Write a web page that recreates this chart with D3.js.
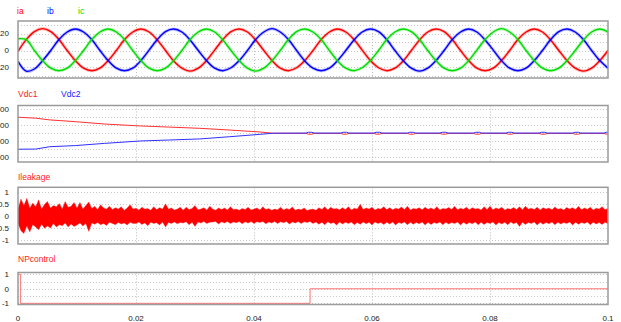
<!DOCTYPE html>
<html><head><meta charset="utf-8">
<script src="https://cdn.jsdelivr.net/npm/d3@7"></script>
<style>body{margin:0;background:#fff}svg{display:block}text{font-family:"Liberation Sans",Arial,sans-serif}</style>
</head><body><svg width="621" height="322"></svg>
<script>
// ---------- DATA ----------
// phase currents, sampled every 100/72 ms (30 degrees of 60 Hz)
const curStepMs = 100 / 72;
const ia = [-1,13,22.5,26,22.5,13,0,-12,-21,-24,-21,-12,
  0,13,22,25.5,22,12.5,0,-12.5,-21,-24.5,-21,-12,
  0.5,13,22.5,25.5,22,12.5,0,-12,-21,-24,-20.5,-12,
  0,13,22,25.5,22,13,0.5,-12,-20.5,-24,-21,-12.5,
  0,12.5,22,25.5,22.5,13,0,-12,-21,-24,-21,-12,
  0,13,22,25.5,22,12.5,0,-12,-21,-24.5,-21,-12,
  0];
const ib = [-13,-24.5,-22,-12,0,13,22,25.5,22,13,0,-12,
  -21,-24,-21,-12,0.5,13,22.5,25.5,22,12.5,0,-12,
  -21,-24,-20.5,-12,0,13,22,26,22,13,0,-12.5,
  -21,-24,-21,-12,0,12.5,22,25.5,22.5,13,0,-12,
  -21,-24.5,-21,-12,0,13,22,25.5,22,12.5,0.5,-12,
  -21,-24,-21,-12,0,13,22.5,25.5,22,13,0,-12,
  -21];
const ic = [14,13,0,-12,-21,-24,-21,-12,0,13,22,25.5,
  22,13,0,-12,-21,-24,-21,-12,0,13,22,25.5,
  22,12.5,0,-12,-21,-24.5,-21,-12,0,13,22.5,25.5,
  22,13,0,-12.5,-21,-24,-20.5,-12,0,13,22,25.5,
  22.5,13,0,-12,-21,-24,-21,-12,0.5,13,22,26,
  22,13,0,-12,-21,-24,-21,-12,0,12.5,22,25.5,
  22];
const curLabels = ["ia", "ib", "ic"];

// DC link capacitor voltages (time in ms)
const vdcT = [0,3,5.4,9.7,14.7,20.7,25.5,30.8,35.9,41,43.2,
  48.8,49.2,49.8,50.2, 54.7,55.1,55.7,56.1, 60.3,60.7,61.3,61.7,
  66.0,66.4,67.0,67.4, 71.5,71.9,72.5,72.9, 77.2,77.6,78.2,78.6,
  82.7,83.1,83.7,84.1, 88.3,88.7,89.3,89.7, 94.0,94.4,95.0,95.4,
  99.3,99.7,100];
const vdc1 = [351,345,334,323,308,296,289,281,270,258,250,
  249,244,244,249, 249,244,244,249, 249,244,244,249,
  249,244,244,249, 249,244,244,249, 249,244,244,249,
  249,244,244,249, 249,244,244,249, 249,244,244,249,
  249,244,244];
const vdc2 = [149,150,165,172,186,201,207,214,228,243,250,
  251,256,256,251, 251,256,256,251, 251,256,256,251,
  251,256,256,251, 251,256,256,251, 251,256,256,251,
  251,256,256,251, 251,256,256,251, 251,256,256,251,
  251,256,256];
const vdcLabels = ["Vdc1", "Vdc2"];

// leakage current envelope, 0.5 ms grid (upper / lower)
const leakStepMs = 0.5;
const leakHi = [
 0.30,0.72,0.45,0.75,0.35,0.55,0.40,0.69,0.30,0.50,
 0.62,0.35,0.45,0.40,0.53,0.30,0.62,0.38,0.42,0.58,
 0.35,0.58,0.30,0.45,0.60,0.32,0.42,0.28,0.48,0.35,
 0.30,0.42,0.28,0.36,0.30,0.40,0.25,0.35,0.48,0.30,
 0.34,0.26,0.38,0.30,0.32,0.25,0.40,0.28,0.36,0.30,
 0.52,0.30,0.35,0.26,0.30,0.38,0.25,0.38,0.28,0.33,
 0.45,0.27,0.30,0.36,0.26,0.42,0.30,0.25,0.35,0.28,
 0.35,0.26,0.40,0.28,0.30,0.25,0.33,0.28,0.38,0.26,
 0.30,0.35,0.26,0.40,0.28,0.32,0.25,0.30,0.27,0.38,
 0.26,0.33,0.28,0.39,0.25,0.30,0.27,0.35,0.24,0.28,
 0.30,0.25,0.36,0.28,0.40,0.26,0.38,0.30,0.33,0.27,
 0.36,0.28,0.40,0.26,0.34,0.30,0.50,0.28,0.35,0.30,
 0.38,0.26,0.33,0.30,0.40,0.28,0.36,0.27,0.34,0.30,
 0.39,0.28,0.42,0.26,0.33,0.30,0.36,0.27,0.38,0.29,
 0.35,0.28,0.40,0.26,0.33,0.30,0.37,0.28,0.42,0.27,
 0.34,0.29,0.38,0.27,0.36,0.30,0.33,0.26,0.40,0.28,
 0.42,0.27,0.35,0.30,0.38,0.26,0.33,0.29,0.37,0.28,
 0.40,0.27,0.42,0.30,0.34,0.28,0.38,0.26,0.36,0.30,
 0.35,0.27,0.39,0.29,0.33,0.26,0.37,0.30,0.36,0.28,
 0.42,0.27,0.35,0.29,0.38,0.26,0.34,0.30,0.40,0.28,
 0.33];
const leakLo = [
 -0.30,-0.60,-0.72,-0.40,-0.65,-0.35,-0.45,-0.56,-0.33,-0.50,
 -0.40,-0.49,-0.30,-0.45,-0.35,-0.39,-0.28,-0.45,-0.32,-0.42,
 -0.36,-0.28,-0.40,-0.30,-0.63,-0.28,-0.33,-0.26,-0.35,-0.30,
 -0.38,-0.25,-0.30,-0.35,-0.26,-0.32,-0.28,-0.36,-0.25,-0.30,
 -0.30,-0.24,-0.34,-0.28,-0.39,-0.25,-0.30,-0.27,-0.36,-0.24,
 -0.45,-0.26,-0.30,-0.24,-0.31,-0.26,-0.28,-0.23,-0.35,-0.25,
 -0.42,-0.24,-0.28,-0.22,-0.30,-0.25,-0.24,-0.22,-0.32,-0.23,
 -0.28,-0.22,-0.30,-0.24,-0.27,-0.22,-0.31,-0.23,-0.28,-0.22,
 -0.30,-0.23,-0.26,-0.22,-0.31,-0.24,-0.28,-0.22,-0.30,-0.23,
 -0.27,-0.22,-0.32,-0.24,-0.28,-0.22,-0.30,-0.23,-0.26,-0.22,
 -0.30,-0.24,-0.33,-0.25,-0.35,-0.23,-0.30,-0.26,-0.36,-0.24,
 -0.32,-0.25,-0.30,-0.24,-0.35,-0.26,-0.33,-0.24,-0.31,-0.25,
 -0.36,-0.24,-0.30,-0.26,-0.34,-0.25,-0.32,-0.24,-0.36,-0.26,
 -0.30,-0.24,-0.35,-0.25,-0.33,-0.26,-0.31,-0.24,-0.36,-0.25,
 -0.34,-0.26,-0.30,-0.24,-0.35,-0.25,-0.32,-0.26,-0.30,-0.24,
 -0.36,-0.25,-0.33,-0.26,-0.31,-0.24,-0.35,-0.25,-0.34,-0.26,
 -0.30,-0.24,-0.36,-0.26,-0.32,-0.25,-0.35,-0.24,-0.31,-0.26,
 -0.42,-0.25,-0.34,-0.26,-0.30,-0.24,-0.36,-0.25,-0.33,-0.26,
 -0.31,-0.24,-0.35,-0.25,-0.32,-0.26,-0.30,-0.24,-0.36,-0.25,
 -0.33,-0.26,-0.30,-0.24,-0.35,-0.25,-0.32,-0.26,-0.34,-0.25,
 -0.31];
const leakLabel = "Ileakage";

// NP control signal (time in ms, step values)
const npT = [0, 0.4, 49.5, 100];
const npV = [1, -1, 0, 0];
const npLabel = "NPcontrol";

const xTicks = [0, 0.02, 0.04, 0.06, 0.08, 0.1];
const xTickLabels = ["0", "0.02", "0.04", "0.06", "0.08", "0.1"];
const curTicks = [20, 0, -20];
const vdcTicks = [400, 300, 200, 100];
const leakTicks = [1, 0.5, 0, -0.5, -1];
const leakTickLabels = ["1", "0.5", "0", "-0.5", "-1"];
const npTicks = [1, 0, -1];

// ---------- DRAWING ----------
const svg = d3.select("svg");
const x = d3.scaleLinear().domain([0, 0.1]).range([18, 608]);
const FRAME = "#9a9a9a", GRID = "#c8c8c8";

const panels = [
  {top: 21, bottom: 78, domain: [-32.7, 35.1], ticks: curTicks, labels: curTicks.map(String), grid: [30,20,10,0,-10,-20,-30]},
  {top: 105.5, bottom: 162, domain: [68.4, 425], ticks: vdcTicks, labels: vdcTicks.map(String), grid: [400,350,300,250,200,150,100]},
  {top: 187.3, bottom: 244, domain: [-1.154, 1.208], ticks: leakTicks, labels: leakTickLabels, grid: [1,0.5,0,-0.5,-1]},
  {top: 272.5, bottom: 304.5, domain: [-1.08, 1.12], ticks: npTicks, labels: npTicks.map(String), grid: [1,0.5,0,-0.5,-1]}
];

panels.forEach((p, i) => {
  p.y = d3.scaleLinear().domain(p.domain).range([p.bottom, p.top]);
  const g = svg.append("g");
  svg.append("clipPath").attr("id", "clip" + i).append("rect")
    .attr("x", x(0)).attr("y", p.top).attr("width", x(0.1) - x(0)).attr("height", p.bottom - p.top);
  g.selectAll(".hg").data(p.grid).join("line")
    .attr("x1", x(0)).attr("x2", x(0.1))
    .attr("y1", d => Math.round(p.y(d)) + 0.5).attr("y2", d => Math.round(p.y(d)) + 0.5)
    .attr("stroke", GRID).attr("stroke-dasharray", "1,2");
  g.selectAll(".vg").data(xTicks.slice(1, -1)).join("line")
    .attr("x1", d => Math.round(x(d)) + 0.5).attr("x2", d => Math.round(x(d)) + 0.5)
    .attr("y1", p.top).attr("y2", p.bottom)
    .attr("stroke", "#bdbdbd").attr("stroke-dasharray", "1,2");
  g.selectAll(".yt").data(p.ticks).join("text")
    .attr("x", 9).attr("y", d => p.y(d)).attr("dy", "0.35em")
    .attr("text-anchor", "end").attr("font-size", 8).attr("fill", "#222")
    .text((d, k) => p.labels[k]);
  p.plot = svg.append("g").attr("clip-path", `url(#clip${i})`);
});

// Panel 1: currents
{
  const p = panels[0];
  const line = d3.line().x((d, k) => x(k * curStepMs / 1000)).y(d => p.y(d)).curve(d3.curveCatmullRom);
  const cols = ["#ff0000", "#0000ff", "#00dd00"];
  [ia, ib, ic].forEach((s, k) => {
    p.plot.append("path").attr("d", line(s)).attr("fill", "none").attr("stroke", cols[k]).attr("stroke-width", 3.2).attr("stroke-opacity", 0.25);
    p.plot.append("path").attr("d", line(s)).attr("fill", "none").attr("stroke", cols[k]).attr("stroke-width", 1.4);
  });
  const lx = [17, 47, 78];
  curLabels.forEach((t, k) => svg.append("text").attr("x", lx[k]).attr("y", 14).attr("font-size", 8.5).attr("fill", cols[k]).text(t));
}
// Panel 2: Vdc
{
  const p = panels[1];
  const line = s => d3.line().x((d, k) => x(vdcT[k] / 1000)).y(d => p.y(d))(s);
  p.plot.append("path").attr("d", line(vdc1)).attr("fill", "none").attr("stroke", "#ff3030").attr("stroke-width", 1);
  p.plot.append("path").attr("d", line(vdc2)).attr("fill", "none").attr("stroke", "#3030ff").attr("stroke-width", 1);
  svg.append("text").attr("x", 18).attr("y", 97).attr("font-size", 8.5).attr("fill", "#ff2020").text(vdcLabels[0]);
  svg.append("text").attr("x", 61).attr("y", 97).attr("font-size", 8.5).attr("fill", "#2020ff").text(vdcLabels[1]);
}
// Panel 3: leakage
{
  const p = panels[2];
  const area = d3.area().x((d, k) => x(k * leakStepMs / 1000)).y0((d, k) => p.y(leakLo[k])).y1(d => p.y(d));
  p.plot.append("path").attr("d", area(leakHi)).attr("fill", "#ff0000").attr("stroke", "#ff3030").attr("stroke-width", 0.8).attr("stroke-opacity", 0.45);
  svg.append("text").attr("x", 18).attr("y", 180).attr("font-size", 8.5).attr("fill", "#ff2020").text(leakLabel);
}
// Panel 4: NP control
{
  const p = panels[3];
  const line = d3.line().x((d, k) => x(npT[k] / 1000)).y(d => p.y(d)).curve(d3.curveStepAfter);
  p.plot.append("path").attr("d", line(npV)).attr("fill", "none").attr("stroke", "#ff7070").attr("stroke-width", 1);
  svg.append("text").attr("x", 18).attr("y", 262).attr("font-size", 8.5).attr("fill", "#ff2020").text(npLabel);
}
// frames
panels.forEach(p => {
  svg.append("rect").attr("x", x(0)).attr("y", p.top).attr("width", x(0.1) - x(0)).attr("height", p.bottom - p.top)
    .attr("fill", "none").attr("stroke", FRAME).attr("stroke-width", 1.5);
});
// x axis labels
svg.selectAll(".xt").data(xTicks).join("text")
  .attr("x", d => x(d)).attr("y", 321).attr("text-anchor", "middle")
  .attr("font-size", 8).attr("fill", "#222")
  .text((d, k) => xTickLabels[k]);
</script></body></html>
